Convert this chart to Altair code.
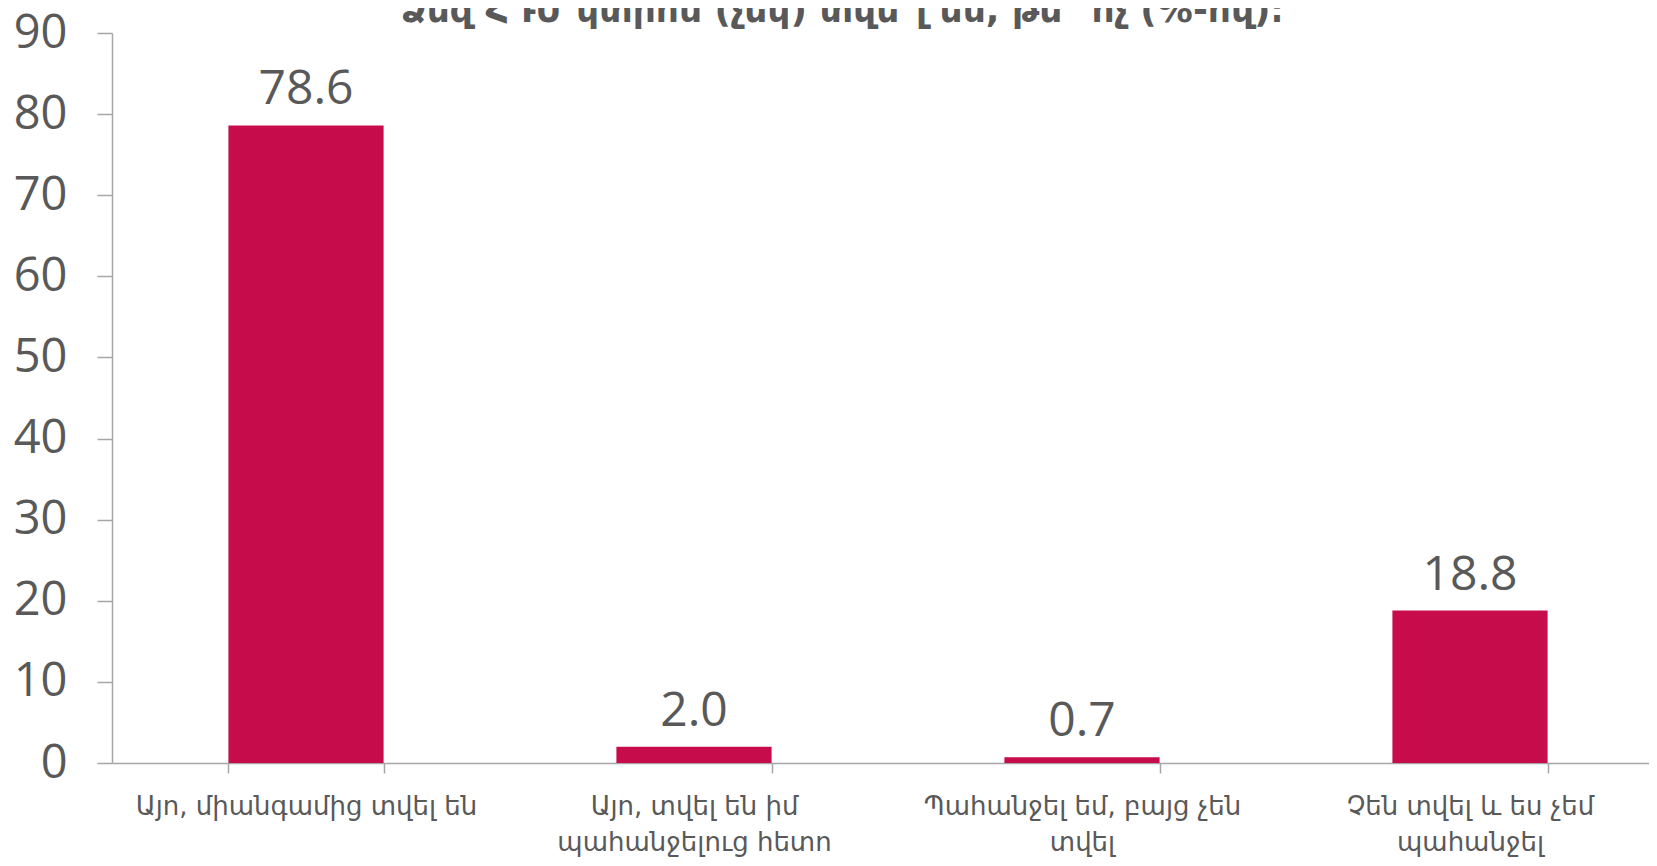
import altair as alt
import pandas as pd

categories = [
    "Այո, միանգամից տվել են",
    "Այո, տվել են իմ|պահանջելուց հետո",
    "Պահանջել եմ, բայց չեն|տվել",
    "Չեն տվել և ես չեմ|պահանջել",
]
values = [78.6, 2.0, 0.7, 18.8]
y_ticks = [0, 10, 20, 30, 40, 50, 60, 70, 80, 90]
title_text = ["Ձեզ ՀԴՄ կտրոն (չեկ) տվե՞լ են, թե՞ ոչ (%-ով)։"]

df = pd.DataFrame({"cat": categories, "val": values})
tdf = pd.DataFrame({"t": title_text})

GREY = "#A6A6A6"
TXT = "#595959"
BAR = "#C70C4C"

x_enc = alt.X(
    "cat:N",
    sort=categories,
    scale=alt.Scale(paddingInner=0.6, paddingOuter=0.3),
    axis=alt.Axis(
        title=None,
        labelAngle=0,
        labelExpr="split(datum.label, '|')",
        tickBand="extent",
        tickSize=10,
        tickColor=GREY,
        domainColor=GREY,
        domainWidth=1.5,
        tickWidth=1.5,
        labelPadding=20,
        labelFont="DejaVu Sans",
        labelFontSize=26,
        labelLineHeight=36,
        labelColor=TXT,
        labelBaseline="top",
        labelLimit=0,
    ),
)
y_enc = alt.Y(
    "val:Q",
    scale=alt.Scale(domain=[0, 90], nice=False),
    axis=alt.Axis(
        title=None,
        values=y_ticks,
        grid=False,
        tickSize=15,
        tickColor=GREY,
        domainColor=GREY,
        domainWidth=1.5,
        tickWidth=1.5,
        labelPadding=30,
        labelFont="Open Sans",
        labelFontSize=47,
        labelColor=TXT,
    ),
)

base = alt.Chart(df)
bars = base.mark_bar(color=BAR).encode(x=x_enc, y=y_enc)
labels = base.mark_text(
    baseline="alphabetic", dy=-21, font="Open Sans", fontSize=48, color=TXT
).encode(x=alt.X("cat:N", sort=categories), y="val:Q", text=alt.Text("val:Q", format=".1f"))

title = alt.Chart(tdf).mark_text(
    baseline="alphabetic", align="center", font="DejaVu Sans", fontSize=36,
    fontWeight="bold", color=TXT
).encode(text="t:N", x=alt.value(730), y=alt.value(-11))

chart = (
    alt.layer(bars, labels, title)
    .properties(
        width=1552,
        height=730,
        autosize=alt.AutoSizeParams(type="none"),
        padding={"left": 104, "top": 25, "right": -15, "bottom": 95},
    )
    .configure_view(stroke=None)
)

chart.save("out.html", embed_options={"renderer": "svg", "actions": False})
